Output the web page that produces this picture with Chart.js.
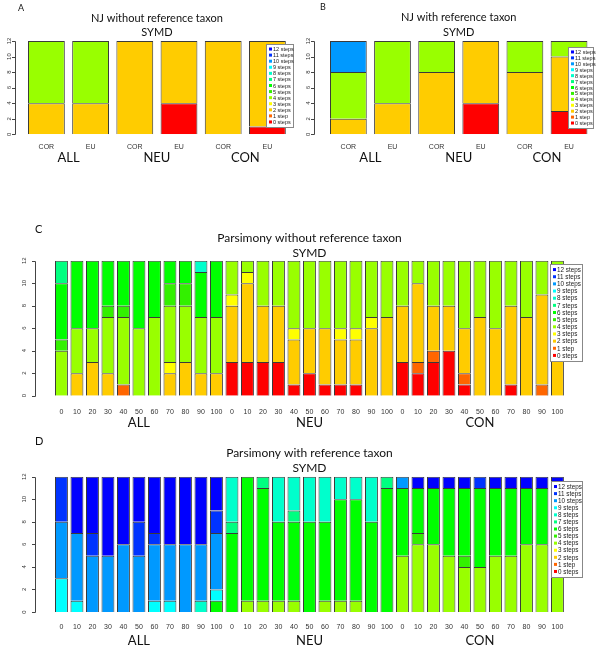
<!DOCTYPE html>
<html>
<head>
<meta charset="utf-8">
<title>SYMD steps</title>
<script src="https://cdn.jsdelivr.net/npm/chart.js@4.4.1/dist/chart.umd.min.js"></script>
<style>
  html, body { margin: 0; padding: 0; background: #fff; }
  #page { position: relative; width: 600px; height: 652px; overflow: hidden; background: #fff; }
  #page canvas { position: absolute; }
</style>
</head>
<body>
<div id="page">
  <canvas id="chartA" width="300" height="170" style="left:0;top:0"></canvas>
  <canvas id="chartB" width="300" height="170" style="left:300px;top:0"></canvas>
  <canvas id="chartC" width="600" height="220" style="left:0;top:215px"></canvas>
  <canvas id="chartD" width="600" height="222" style="left:0;top:430px"></canvas>
</div>
<script>
(function () {
    'use strict';

    // Step classes, bottom of the stack first.
    var STEP_LABELS = ['0 steps', '1 step', '2 steps', '3 steps', '4 steps', '5 steps', '6 steps',
        '7 steps', '8 steps', '9 steps', '10 steps', '11 steps', '12 steps'];
    var STEP_COLORS = ['#FF0000', '#FF6600', '#FFCC00', '#FFFF00', '#99FF00', '#33F000', '#00FF00',
        '#00FF80', '#00FFCC', '#00FFFF', '#0099FF', '#0033FF', '#0000FF'];

    var GROUPS = ['ALL', 'NEU', 'CON'];
    var NJ_CATS = ['COR', 'EU', 'COR', 'EU', 'COR', 'EU'];
    var PCT = ['0', '10', '20', '30', '40', '50', '60', '70', '80', '90', '100'];
    var PARS_CATS = PCT.concat(PCT, PCT);
    var Y_TICKS = [0, 2, 4, 6, 8, 10, 12];

    // Counts per bar, one entry per step class (0 .. 12 steps).
    var NJ_NOREF = [
        [0, 0, 4, 0, 8, 0, 0, 0, 0, 0, 0, 0, 0],
        [0, 0, 4, 0, 8, 0, 0, 0, 0, 0, 0, 0, 0],
        [0, 0, 12, 0, 0, 0, 0, 0, 0, 0, 0, 0, 0],
        [4, 0, 8, 0, 0, 0, 0, 0, 0, 0, 0, 0, 0],
        [0, 0, 12, 0, 0, 0, 0, 0, 0, 0, 0, 0, 0],
        [1, 0, 11, 0, 0, 0, 0, 0, 0, 0, 0, 0, 0]
    ];
    var NJ_REF = [
        [0, 0, 2, 0, 6, 0, 0, 0, 0, 0, 4, 0, 0],
        [0, 0, 4, 0, 8, 0, 0, 0, 0, 0, 0, 0, 0],
        [0, 0, 8, 0, 4, 0, 0, 0, 0, 0, 0, 0, 0],
        [4, 0, 8, 0, 0, 0, 0, 0, 0, 0, 0, 0, 0],
        [0, 0, 8, 0, 4, 0, 0, 0, 0, 0, 0, 0, 0],
        [3, 0, 7, 0, 2, 0, 0, 0, 0, 0, 0, 0, 0]
    ];
    var PARS_NOREF = [
        // ALL
        [0, 0, 0, 0, 4, 1, 5, 2, 0, 0, 0, 0, 0],
        [0, 0, 2, 0, 4, 0, 6, 0, 0, 0, 0, 0, 0],
        [0, 0, 3, 0, 3, 0, 6, 0, 0, 0, 0, 0, 0],
        [0, 0, 2, 0, 5, 1, 4, 0, 0, 0, 0, 0, 0],
        [0, 1, 0, 0, 6, 1, 4, 0, 0, 0, 0, 0, 0],
        [0, 0, 0, 0, 6, 0, 6, 0, 0, 0, 0, 0, 0],
        [0, 0, 0, 0, 7, 0, 5, 0, 0, 0, 0, 0, 0],
        [0, 0, 2, 1, 5, 2, 2, 0, 0, 0, 0, 0, 0],
        [0, 0, 3, 0, 5, 2, 2, 0, 0, 0, 0, 0, 0],
        [0, 0, 2, 0, 5, 0, 4, 0, 1, 0, 0, 0, 0],
        [0, 0, 2, 0, 5, 0, 5, 0, 0, 0, 0, 0, 0],
        // NEU
        [3, 0, 5, 1, 3, 0, 0, 0, 0, 0, 0, 0, 0],
        [3, 0, 7, 1, 1, 0, 0, 0, 0, 0, 0, 0, 0],
        [3, 0, 5, 0, 4, 0, 0, 0, 0, 0, 0, 0, 0],
        [3, 0, 5, 0, 4, 0, 0, 0, 0, 0, 0, 0, 0],
        [1, 0, 4, 1, 6, 0, 0, 0, 0, 0, 0, 0, 0],
        [2, 0, 4, 0, 6, 0, 0, 0, 0, 0, 0, 0, 0],
        [1, 0, 5, 0, 6, 0, 0, 0, 0, 0, 0, 0, 0],
        [1, 0, 4, 1, 6, 0, 0, 0, 0, 0, 0, 0, 0],
        [1, 0, 4, 1, 6, 0, 0, 0, 0, 0, 0, 0, 0],
        [0, 0, 6, 1, 5, 0, 0, 0, 0, 0, 0, 0, 0],
        [0, 0, 7, 0, 5, 0, 0, 0, 0, 0, 0, 0, 0],
        // CON
        [3, 0, 5, 0, 4, 0, 0, 0, 0, 0, 0, 0, 0],
        [2, 1, 7, 0, 2, 0, 0, 0, 0, 0, 0, 0, 0],
        [3, 1, 4, 0, 4, 0, 0, 0, 0, 0, 0, 0, 0],
        [4, 0, 4, 0, 4, 0, 0, 0, 0, 0, 0, 0, 0],
        [1, 1, 4, 0, 6, 0, 0, 0, 0, 0, 0, 0, 0],
        [0, 0, 7, 0, 5, 0, 0, 0, 0, 0, 0, 0, 0],
        [0, 0, 6, 0, 6, 0, 0, 0, 0, 0, 0, 0, 0],
        [1, 0, 7, 0, 4, 0, 0, 0, 0, 0, 0, 0, 0],
        [0, 0, 7, 0, 5, 0, 0, 0, 0, 0, 0, 0, 0],
        [0, 1, 8, 0, 3, 0, 0, 0, 0, 0, 0, 0, 0],
        [0, 0, 6, 0, 6, 0, 0, 0, 0, 0, 0, 0, 0]
    ];
    var PARS_REF = [
        // ALL
        [0, 0, 0, 0, 0, 0, 0, 0, 0, 3, 5, 4, 0],
        [0, 0, 0, 0, 0, 0, 0, 0, 0, 1, 6, 0, 5],
        [0, 0, 0, 0, 0, 0, 0, 0, 0, 0, 5, 2, 5],
        [0, 0, 0, 0, 0, 0, 0, 0, 0, 0, 5, 0, 7],
        [0, 0, 0, 0, 0, 0, 0, 0, 0, 0, 6, 0, 6],
        [0, 0, 0, 0, 0, 0, 0, 0, 0, 0, 5, 3, 4],
        [0, 0, 0, 0, 0, 0, 0, 0, 0, 1, 5, 1, 5],
        [0, 0, 0, 0, 0, 0, 0, 0, 0, 1, 5, 0, 6],
        [0, 0, 0, 0, 0, 0, 0, 0, 0, 0, 6, 0, 6],
        [0, 0, 0, 0, 0, 0, 0, 0, 1, 0, 5, 0, 6],
        [0, 0, 0, 0, 0, 0, 1, 0, 0, 1, 5, 2, 3],
        // NEU
        [0, 0, 0, 0, 0, 0, 7, 1, 4, 0, 0, 0, 0],
        [0, 0, 0, 0, 1, 0, 11, 0, 0, 0, 0, 0, 0],
        [0, 0, 0, 0, 1, 0, 10, 1, 0, 0, 0, 0, 0],
        [0, 0, 0, 0, 1, 0, 7, 0, 4, 0, 0, 0, 0],
        [0, 0, 0, 0, 1, 0, 7, 1, 3, 0, 0, 0, 0],
        [0, 0, 0, 0, 0, 0, 8, 0, 4, 0, 0, 0, 0],
        [0, 0, 0, 0, 1, 0, 7, 0, 4, 0, 0, 0, 0],
        [0, 0, 0, 0, 1, 0, 9, 0, 2, 0, 0, 0, 0],
        [0, 0, 0, 0, 1, 0, 9, 0, 2, 0, 0, 0, 0],
        [0, 0, 0, 0, 0, 0, 8, 0, 4, 0, 0, 0, 0],
        [0, 0, 0, 0, 0, 0, 11, 1, 0, 0, 0, 0, 0],
        // CON
        [0, 0, 0, 0, 5, 0, 6, 0, 0, 0, 1, 0, 0],
        [0, 0, 0, 0, 6, 1, 4, 0, 0, 0, 0, 0, 1],
        [0, 0, 0, 0, 6, 0, 5, 0, 0, 0, 0, 0, 1],
        [0, 0, 0, 0, 5, 0, 6, 0, 0, 0, 0, 0, 1],
        [0, 0, 0, 0, 4, 1, 6, 0, 0, 0, 0, 0, 1],
        [0, 0, 0, 0, 4, 0, 7, 0, 0, 0, 0, 1, 0],
        [0, 0, 0, 0, 5, 0, 6, 0, 0, 0, 0, 0, 1],
        [0, 0, 0, 0, 5, 0, 6, 0, 0, 0, 0, 0, 1],
        [0, 0, 0, 0, 6, 0, 5, 0, 0, 0, 0, 0, 1],
        [0, 0, 0, 0, 6, 0, 5, 0, 0, 0, 0, 0, 1],
        [0, 0, 0, 0, 6, 0, 5, 0, 0, 0, 0, 0, 1]
    ];

    var SANS = "'Liberation Sans', Arial, sans-serif";
    var TITLE_FONT = "Lato, 'Open Sans', sans-serif";

    /**
     * R-style y axis (line, ticks, rotated labels), panel letter and boxed legend.
     */
    var panelDecor = {
        id: 'panelDecor',
        afterDraw: function (chart, args, o) {
            var ctx = chart.ctx;
            var y = chart.scales.y;
            var ax = Math.round(o.axisX) + 0.5;

            ctx.save();
            ctx.strokeStyle = '#444';
            ctx.lineWidth = 1;
            ctx.beginPath();
            ctx.moveTo(ax, Math.round(y.getPixelForValue(Y_TICKS[0])) + 0.5);
            ctx.lineTo(ax, Math.round(y.getPixelForValue(Y_TICKS[Y_TICKS.length - 1])) + 0.5);
            y.ticks.forEach(function (t) {
                var py = Math.round(y.getPixelForValue(t.value)) + 0.5;
                ctx.moveTo(ax, py);
                ctx.lineTo(ax - 3.5, py);
            });
            ctx.stroke();

            // tick labels read bottom to top, like R's las = 0
            ctx.fillStyle = '#333';
            ctx.font = o.ySize + 'px ' + SANS;
            ctx.textAlign = 'center';
            ctx.textBaseline = 'middle';
            y.ticks.forEach(function (t) {
                ctx.save();
                ctx.translate(o.yLabX, y.getPixelForValue(t.value));
                ctx.rotate(-Math.PI / 2);
                ctx.fillText(String(t.value), 0, 0);
                ctx.restore();
            });

            ctx.fillStyle = '#111';
            ctx.font = o.letterSize + 'px ' + TITLE_FONT;
            ctx.textAlign = 'left';
            ctx.fillText(o.letter, o.letterX, o.letterY);

            // legend box, highest step on top
            var L = o.legend;
            ctx.fillStyle = '#fff';
            ctx.fillRect(L.x, L.y, L.w, L.h);
            ctx.strokeStyle = '#888';
            ctx.strokeRect(L.x + 0.5, L.y + 0.5, L.w, L.h);
            var rowH = (L.h - 4) / STEP_LABELS.length;
            ctx.font = L.font + 'px ' + SANS;
            for (var i = 0; i < STEP_LABELS.length; i++) {
                var s = STEP_LABELS.length - 1 - i;
                var cy = L.y + 2 + rowH * (i + 0.5);
                ctx.fillStyle = STEP_COLORS[s];
                ctx.fillRect(L.x + 3, cy - L.sw / 2, L.sw, L.sw);
                ctx.fillStyle = '#222';
                ctx.fillText(STEP_LABELS[s], L.x + 4 + L.sw, cy + 0.5);
            }
            ctx.restore();
        }
    };

    /**
     * Build one stacked bar panel. P holds the target pixel layout.
     */
    function buildPanel(canvasId, cats, bars, title, P) {
        var datasets = STEP_LABELS.map(function (label, s) {
            return {
                label: label,
                data: bars.map(function (b) { return b[s] || null; }),
                backgroundColor: STEP_COLORS[s],
                borderColor: '#3a3a3a',
                borderWidth: 1,
                barPercentage: 1 / 1.2,
                categoryPercentage: 1
            };
        });

        var tLh = P.titleSize * 1.2;
        var titlePadTop = P.titleY - tLh / 2;
        var titleEnd = titlePadTop + tLh;
        var subPadTop = Math.max(0, P.subY - tLh / 2 - titleEnd);
        var subPadBottom = Math.max(0, P.top - (P.subY + tLh / 2));

        var xLh = P.xSize * 1.2;
        var xPad = P.xLabY - P.bottom - xLh / 2;
        var xH = xPad + xLh;
        var gLh = P.gSize;
        var gPad = Math.max(0, P.groupY - (P.bottom + xH) - gLh / 2);
        var gH = gPad + gLh;
        var padBottom = P.h - P.bottom - xH - gH;

        return new Chart(document.getElementById(canvasId), {
            type: 'bar',
            data: { labels: cats, datasets: datasets },
            plugins: [panelDecor],
            options: {
                responsive: false,
                animation: false,
                events: [],
                layout: { padding: { left: 0, top: 0, right: P.w - P.right, bottom: padBottom } },
                scales: {
                    x: {
                        type: 'category',
                        stacked: true,
                        offset: true,
                        grid: { display: false, drawTicks: false },
                        border: { display: false },
                        ticks: {
                            autoSkip: false, maxRotation: 0, padding: xPad, color: '#333',
                            font: { family: SANS, size: P.xSize }
                        },
                        afterFit: function (s) { s.height = xH; }
                    },
                    groups: {
                        type: 'category',
                        position: 'bottom',
                        labels: GROUPS,
                        offset: true,
                        grid: { display: false, drawTicks: false },
                        border: { display: false },
                        ticks: {
                            autoSkip: false, maxRotation: 0, padding: gPad, color: '#111',
                            font: { family: TITLE_FONT, size: P.gSize, lineHeight: 1 }
                        },
                        afterFit: function (s) { s.height = gH; }
                    },
                    y: {
                        stacked: true,
                        min: Y_TICKS[0],
                        max: Y_TICKS[Y_TICKS.length - 1],
                        afterBuildTicks: function (s) {
                            s.ticks = Y_TICKS.map(function (v) { return { value: v }; });
                        },
                        grid: { display: false, drawTicks: false },
                        border: { display: false },
                        ticks: { display: false },
                        afterFit: function (s) { s.width = P.left; }
                    }
                },
                plugins: {
                    legend: { display: false },
                    tooltip: { enabled: false },
                    title: {
                        display: true, text: title, fullSize: false, color: '#111',
                        font: { family: TITLE_FONT, size: P.titleSize, weight: 'normal' },
                        padding: { top: titlePadTop, bottom: 0 }
                    },
                    subtitle: {
                        display: true, text: 'SYMD', fullSize: false, color: '#111',
                        font: { family: TITLE_FONT, size: P.titleSize, weight: 'normal' },
                        padding: { top: subPadTop, bottom: subPadBottom }
                    },
                    panelDecor: {
                        axisX: P.axisX, yLabX: P.yLabX, ySize: P.ySize,
                        letter: P.letter, letterX: P.letterX, letterY: P.letterY, letterSize: P.letterSize,
                        legend: P.legend
                    }
                }
            }
        });
    }

    function init() {
        buildPanel('chartA', NJ_CATS, NJ_NOREF, 'NJ without reference taxon', {
            w: 300, h: 170, left: 24.3, right: 289.5, top: 41, bottom: 134.3,
            titleSize: 11, titleY: 18, subY: 32, xSize: 7, xLabY: 147.3, gSize: 13, groupY: 157.5,
            ySize: 6, yLabX: 9.5, axisX: 15,
            letter: 'A', letterX: 18, letterY: 8, letterSize: 9,
            legend: { x: 266, y: 44, w: 27, h: 83, font: 5.5, sw: 3 }
        });
        buildPanel('chartB', NJ_CATS, NJ_REF, 'NJ with reference taxon', {
            w: 300, h: 170, left: 26.3, right: 291.1, top: 41, bottom: 134.3,
            titleSize: 11, titleY: 17.5, subY: 32.3, xSize: 7, xLabY: 147.3, gSize: 13, groupY: 157.5,
            ySize: 6, yLabX: 8, axisX: 14,
            letter: 'B', letterX: 20, letterY: 7, letterSize: 9,
            legend: { x: 268, y: 47, w: 25, h: 81, font: 5.5, sw: 3 }
        });
        buildPanel('chartC', PARS_CATS, PARS_NOREF, 'Parsimony without reference taxon', {
            w: 600, h: 220, left: 53.7, right: 565.2, top: 45.7, bottom: 180.7,
            titleSize: 12, titleY: 23, subY: 38, xSize: 7, xLabY: 196.7, gSize: 13, groupY: 208,
            ySize: 6, yLabX: 24, axisX: 34.5,
            letter: 'C', letterX: 35, letterY: 14, letterSize: 11,
            legend: { x: 550, y: 49, w: 32, h: 97, font: 6.3, sw: 3 }
        });
        buildPanel('chartD', PARS_CATS, PARS_REF, 'Parsimony with reference taxon', {
            w: 600, h: 222, left: 53.7, right: 565.2, top: 46.7, bottom: 182,
            titleSize: 12, titleY: 23, subY: 38, xSize: 7, xLabY: 197, gSize: 13, groupY: 211,
            ySize: 6, yLabX: 24, axisX: 34.5,
            letter: 'D', letterX: 35, letterY: 11, letterSize: 11,
            legend: { x: 551, y: 51, w: 31, h: 96, font: 6.3, sw: 3 }
        });
    }

    if (document.readyState === 'loading') {
        document.addEventListener('DOMContentLoaded', init);
    } else {
        init();
    }
})();
</script>
</body>
</html>
